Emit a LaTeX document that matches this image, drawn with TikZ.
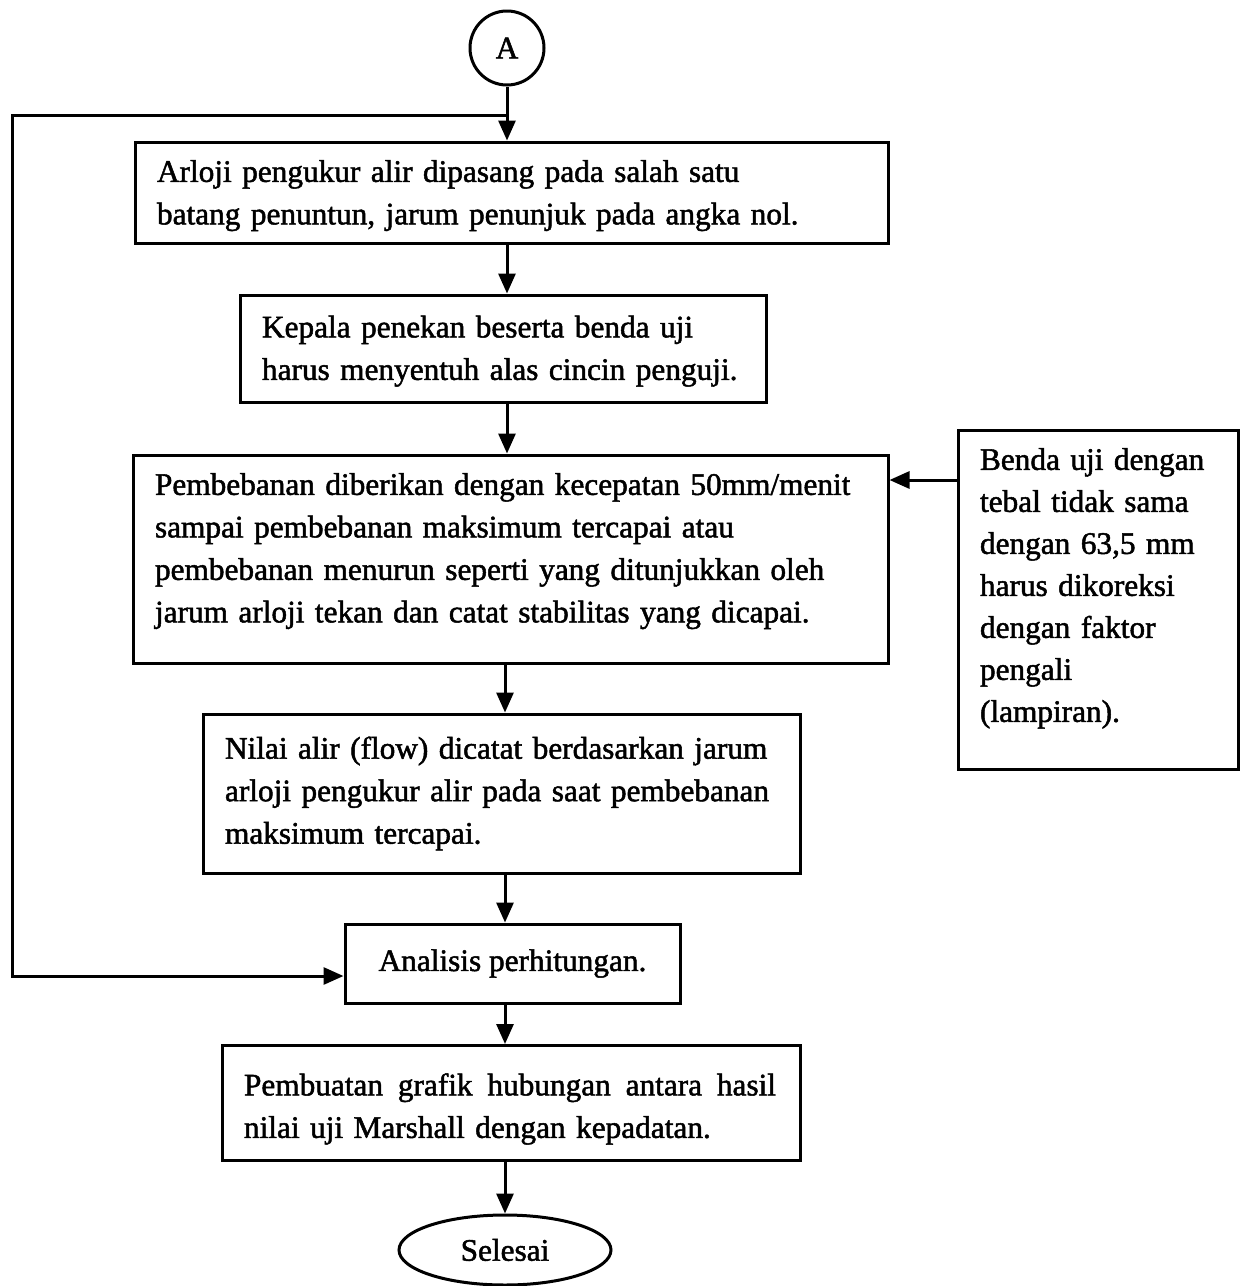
\documentclass[tikz,border=0pt]{standalone}
\usepackage{fontspec}
\setmainfont{Liberation Serif}[FakeBold=1.6]
\usetikzlibrary{arrows.meta,shapes.geometric}
\begin{document}
\begin{tikzpicture}[x=1pt,y=-1pt,
  every node/.style={font=\fontsize{31.3}{42.5}\selectfont},
  procbox/.style={draw,line width=3pt,rectangle,inner xsep=22pt,inner ysep=0pt,align=left},
  termnode/.style={draw,line width=3pt,ellipse,inner sep=0pt},
  conn/.style={line width=3pt,-{Triangle[length=20pt,width=17pt]}}]
\useasboundingbox (0,0) rectangle (1241,1286);

\node[termnode,minimum width=74pt,minimum height=74pt] (A) at (507,48) {A};

\node[procbox,minimum width=753pt,minimum height=101pt,text width=709pt] (b1) at (511.5,192.5)
  {\mbox{\rule{0pt}{28pt}Arloji pengukur alir dipasang pada salah satu}\\\mbox{batang penuntun, jarum penunjuk pada angka nol.}};

\node[procbox,minimum width=526pt,minimum height=107pt,text width=482pt] (b2) at (503,348.5)
  {\mbox{\rule{0pt}{27pt}Kepala penekan beserta benda uji}\\\mbox{harus menyentuh alas cincin penguji.}};

\node[procbox,minimum width=755pt,minimum height=208pt,text width=711pt] (b3) at (510.5,559)
  {\mbox{Pembebanan diberikan dengan kecepatan 50mm/menit}\\\mbox{sampai pembebanan maksimum tercapai atau}\\\mbox{pembebanan menurun seperti yang ditunjukkan oleh}\\\mbox{jarum arloji tekan dan catat stabilitas yang dicapai.}\\[-20pt]\mbox{}};

\node[procbox,minimum width=280pt,minimum height=339pt,text width=236pt,font=\fontsize{31.3}{42}\selectfont] (side) at (1098,599.5)
  {\mbox{Benda uji dengan}\\\mbox{tebal tidak sama}\\\mbox{dengan 63,5 mm}\\\mbox{harus dikoreksi}\\\mbox{dengan faktor}\\\mbox{pengali}\\\mbox{(lampiran).}\\[-13pt]\mbox{}};

\node[procbox,minimum width=597pt,minimum height=159pt,text width=553pt] (b4) at (501.5,793.5)
  {\mbox{Nilai alir (flow) dicatat berdasarkan jarum}\\\mbox{arloji pengukur alir pada saat pembebanan}\\\mbox{maksimum tercapai.}};

\node[procbox,align=center,minimum width=335pt,minimum height=79pt] (b5) at (512.5,963.5)
  {Analisis perhitungan.};

\node[procbox,minimum width=578pt,minimum height=115pt,text width=534pt] (b6) at (511,1103)
  {\hbox to 532pt{\rule{0pt}{34pt}Pembuatan\hskip 8pt plus 1fil grafik\hskip 8pt plus 1fil hubungan\hskip 8pt plus 1fil antara\hskip 8pt plus 1fil hasil}\\\mbox{nilai uji Marshall dengan kepadatan.}};

\node[termnode,minimum width=212pt,minimum height=70pt] (end) at (505,1250) {Selesai};

\coordinate (cx) at (505,0);
\coordinate (j) at (507,115);
\coordinate (lt) at (12,115);
\coordinate (lb) at (12,976);
\coordinate (sa) at (0,480);

\draw[conn] (A.south) -- (A.south |- b1.north);
\draw[conn] (b1.south -| A) -- (b2.north -| A);
\draw[conn] (b2.south -| A) -- (b3.north -| A);
\draw[conn] (b3.south -| cx) -- (b4.north -| cx);
\draw[conn] (b4.south -| cx) -- (b5.north -| cx);
\draw[conn] (b5.south -| cx) -- (b6.north -| cx);
\draw[conn] (b6.south -| cx) -- (end.north);
\draw[conn] (j) -- (lt) -- (lb) -- (lb -| b5.west);
\draw[conn] (sa -| side.west) -- (sa -| b3.east);
\end{tikzpicture}
\end{document}
